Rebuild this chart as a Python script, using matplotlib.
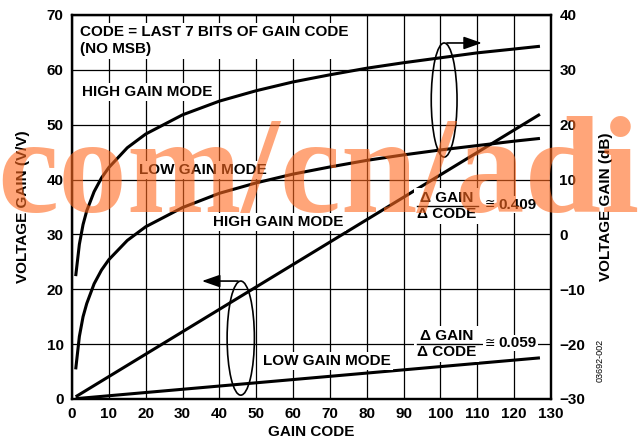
import matplotlib
matplotlib.use("Agg")
import matplotlib.pyplot as plt
from matplotlib.patches import Ellipse

# данные
codes_db = [1, 2, 3, 4, 6, 8, 10, 15, 20, 30, 40, 50, 60, 70, 80, 90, 100, 110, 120, 127]
high_db = [-7.6, -1.8, 1.8, 4.3, 7.8, 10.3, 12.2, 15.8, 18.3, 21.8, 24.3, 26.2,
           27.8, 29.1, 30.3, 31.3, 32.2, 33.1, 33.8, 34.3]
low_db = [-24.6, -18.6, -15.0, -12.6, -9.0, -6.5, -4.6, -1.1, 1.4, 4.9, 7.5, 9.4,
          11.0, 12.3, 13.5, 14.5, 15.4, 16.2, 17.0, 17.5]
codes_lin = [1, 127]
high_vv = [0.41, 51.9]
low_vv = [0.06, 7.5]

x_ticks = list(range(0, 131, 10))
left_ticks = list(range(0, 71, 10))
right_ticks = list(range(-30, 41, 10))

plt.rcParams['font.family'] = ['Liberation Sans', 'DejaVu Sans']
plt.rcParams['font.weight'] = 'bold'
plt.rcParams['font.size'] = 11

fig = plt.figure(figsize=(6.42, 4.45), dpi=100)
ax = fig.add_axes([72 / 642, 1 - 399 / 445, (551 - 72) / 642, (399 - 15) / 445])
ax2 = ax.twinx()

ax.set_xlim(0, 130)
ax.set_ylim(0, 70)
ax2.set_ylim(-30, 40)
ax.set_xticks(x_ticks)
ax.set_yticks(left_ticks)
ax2.set_yticks(right_ticks)
ax.grid(True, color='black', linewidth=0.9)
ax.tick_params(length=0, pad=6, labelsize=11)
ax2.tick_params(length=0, pad=6, labelsize=11)
for a in (ax, ax2):
    for s in a.spines.values():
        s.set_linewidth(1.6)

# линии V/V и дБ
ax.plot(codes_lin, high_vv, color='black', lw=2.2, solid_capstyle='butt')
ax.plot(codes_lin, low_vv, color='black', lw=2.2, solid_capstyle='butt')
ax2.plot(codes_db, high_db, color='black', lw=2.2, solid_capstyle='butt')
ax2.plot(codes_db, low_db, color='black', lw=2.2, solid_capstyle='butt')

ax.set_xlabel('GAIN CODE', fontweight='bold', labelpad=3)
ax.set_ylabel('VOLTAGE GAIN (V/V)', fontweight='bold', labelpad=12)
ax2.set_ylabel('VOLTAGE GAIN (dB)', fontweight='bold', labelpad=10)

box = dict(facecolor='white', edgecolor='none', pad=1.5)
ax.text(2.2, 65.3, 'CODE = LAST 7 BITS OF GAIN CODE\n(NO MSB)', ha='left', va='center',
        linespacing=1.3, bbox=box)
ax.text(2.7, 56.0, 'HIGH GAIN MODE', ha='left', va='center', bbox=box)
ax.text(18.2, 41.7, 'LOW GAIN MODE', ha='left', va='center', bbox=box)
ax.text(38.3, 32.3, 'HIGH GAIN MODE', ha='left', va='center', bbox=box)
ax.text(51.8, 6.9, 'LOW GAIN MODE', ha='left', va='center', bbox=box)

# дроби ΔGAIN/ΔCODE
for yc, val in ((35.2, '0.409'), (10.0, '0.059')):
    ax.text(101.7, yc, '\u0394 GAIN\n\u0394 CODE', ha='center', va='center', linespacing=1.2,
            bbox=dict(facecolor='white', edgecolor='none', pad=2))
    ax.plot([93.6, 110.2], [yc, yc], color='black', lw=1.0, zorder=5)
    ax.text(112.0, yc + 0.2, '\u2245', ha='left', va='center', fontweight='normal', fontsize=9,
            family=['DejaVu Sans'], bbox=dict(facecolor='white', edgecolor='none', pad=1))
    ax.text(115.8, yc + 0.2, val, ha='left', va='center',
            bbox=dict(facecolor='white', edgecolor='none', pad=1))

# эллипсы со стрелками
ax.add_patch(Ellipse((101.0, 54.5), 7.0, 20.8, fill=False, ec='black', lw=1.2, zorder=4))
ax.annotate('', xy=(112.0, 64.9), xytext=(101.0, 64.9),
            arrowprops=dict(arrowstyle='-|>,head_length=1.0,head_width=0.35', color='black', lw=1.2))
ax.add_patch(Ellipse((45.8, 11.1), 7.4, 20.8, fill=False, ec='black', lw=1.2, zorder=4))
ax.annotate('', xy=(34.5, 21.5), xytext=(45.8, 21.5),
            arrowprops=dict(arrowstyle='-|>,head_length=1.0,head_width=0.35', color='black', lw=1.2))

fig.text(600 / 642, 1 - 360 / 445, '03692-002', rotation=90, ha='center', va='center',
         fontsize=6.5, fontweight='normal')

# водяной знак
fig.text(-3 / 642, 1 - 212 / 445, 'com/cn/adi', ha='left', va='baseline', fontsize=99,
         family=['Liberation Serif'], fontweight='bold', color='#ff6a20', alpha=0.6, zorder=10)

fig.savefig('out.png', dpi=100)
